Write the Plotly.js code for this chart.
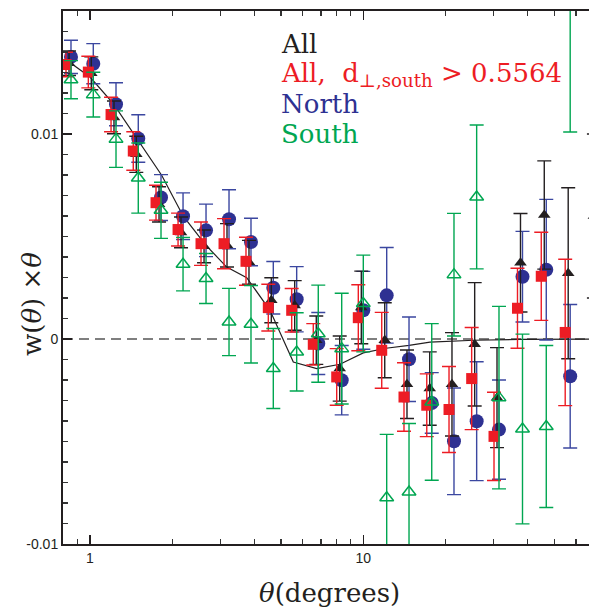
<!DOCTYPE html>
<html>
<head>
<meta charset="utf-8">
<script src="https://cdn.plot.ly/plotly-3.0.1.min.js"></script>
<style>html,body{margin:0;padding:0;overflow:hidden;background:#fff;}</style>
</head>
<body>
<div id="chart"></div>
<script>
// ---- data ----
const thetaNorth = [0.852,1.028,1.245,1.502,1.819,2.190,2.658,3.226,3.882,4.685,5.705,6.843,8.337,10.00,12.18,14.70,17.80,21.47,25.99,31.37,38.24,46.72,57.15];
const wNorth = [0.01376,0.01343,0.01145,0.00978,0.00690,0.00599,0.00530,0.00584,0.00473,0.00250,0.00194,-0.00022,-0.00201,0.00140,0.00213,-0.00099,-0.00312,-0.00499,-0.00401,-0.00442,0.00304,0.00338,-0.00182];
const errNorth = [0.00081,0.00098,0.00105,0.00116,0.00112,0.00114,0.00128,0.00144,0.00116,0.00128,0.00159,0.00151,0.00169,0.00190,0.00233,0.00206,0.00148,0.00260,0.00290,0.00242,0.00221,0.00343,0.00350];

const thetaSouth = [0.852,1.028,1.245,1.502,1.819,2.190,2.658,3.226,3.882,4.685,5.705,6.843,8.337,10.00,12.18,14.70,17.80,21.47,25.99,31.37,38.24,46.72,57.15];
const wSouth = [0.01265,0.01192,0.00975,0.00785,0.00628,0.00365,0.00295,0.00083,0.00072,-0.00144,-0.00063,0.00026,-0.00047,0.00173,-0.00774,-0.00746,-0.00307,0.00314,0.00693,-0.00286,-0.00439,-0.00427,0.0205];
const errSouth = [0.00093,0.00109,0.00138,0.00171,0.00137,0.00130,0.00122,0.00164,0.00189,0.00195,0.00191,0.00237,0.00270,0.00236,0.00309,0.00334,0.00382,0.00299,0.00351,0.00445,0.00463,0.00395,0.0104];

const thetaAllCut = [0.817,0.986,1.194,1.440,1.744,2.100,2.548,3.093,3.722,4.492,5.470,6.561,7.993,9.588,11.68,14.09,17.07,20.59,24.92,30.08,36.66,44.79,54.80];
const wAllCut = [0.01339,0.01302,0.01095,0.00917,0.00665,0.00534,0.00465,0.00465,0.00379,0.00153,0.00140,-0.00026,-0.00185,0.00104,-0.00055,-0.00283,-0.00323,-0.00344,-0.00193,-0.00475,0.00150,0.00306,0.00032];
const errAllCut = [0.00060,0.00077,0.00084,0.00094,0.00085,0.00080,0.00106,0.00122,0.00117,0.00114,0.00106,0.00101,0.00138,0.00161,0.00185,0.00167,0.00153,0.00210,0.00249,0.00215,0.00195,0.00215,0.00357];

const thetaAll = [0.838,1.011,1.224,1.477,1.789,2.153,2.614,3.172,3.817,4.607,5.610,6.729,8.198,9.833,11.98,14.45,17.50,21.11,25.56,30.85,37.60,45.94,56.20,69.8];
const wAll = [0.01345,0.01296,0.01081,0.00901,0.00657,0.00520,0.00452,0.00457,0.00374,0.00189,0.00164,-0.00006,-0.00144,0.00154,-0.00006,-0.00221,-0.00242,-0.00221,-0.00026,-0.00286,0.00372,0.00605,0.00321,0.0060];
const errAll = [0.00060,0.00080,0.00080,0.00088,0.00086,0.00075,0.00080,0.00106,0.00107,0.00110,0.00121,0.00118,0.00159,0.00177,0.00183,0.00167,0.00179,0.00252,0.00301,0.00244,0.00240,0.00264,0.00417,0.0040];

const thetaModel = [0.815,1.0,1.217,1.524,1.829,2.194,2.657,3.164,3.745,4.556,5.545,6.753,8.217,10.0,12.11,14.70,17.54,25.41,37.43,70.0];
const wModel = [0.01363,0.01278,0.01148,0.00953,0.00799,0.00599,0.00457,0.00351,0.00299,0.00140,-0.00112,-0.00144,-0.00123,-0.00068,-0.00045,-0.00031,-0.00015,-0.00006,-0.00002,0.0];

const yTickVals = [-0.01, 0, 0.01];
const yTickText = ['-0.01', '0', '0.01'];
const xTickVals = [1, 10];
const xTickText = ['1', '10'];
const xMinorVals = [0.8,0.9,2,3,4,5,6,7,8,9,20,30,40,50,60,70,80];

const legendLabels = ['All', 'All,&nbsp; d<sub>\u22a5,south</sub> > 0.5564', 'North', 'South'];

// ---- styles ----
const cBlack = '#231F20', cRed = '#ED1C24', cBlue = '#2E3192', cGreen = '#00A651';
const serif = 'DejaVu Serif, serif';
const sans = 'Liberation Sans, Arial, sans-serif';

function eb(arr, color) {
  return {type: 'data', array: arr, visible: true, color: color, thickness: 1.4, width: 7};
}

const traces = [
  {x: thetaModel, y: wModel, mode: 'lines', line: {color: cBlack, width: 1.2}, hoverinfo: 'skip'},
  {x: thetaNorth, y: wNorth, mode: 'markers', marker: {symbol: 'circle', size: 14, color: cBlue},
   error_y: eb(errNorth, '#3B47A0')},
  {x: thetaAll, y: wAll, mode: 'markers', marker: {symbol: 'triangle-up', size: 11, color: cBlack},
   error_y: eb(errAll, cBlack)},
  {x: thetaAllCut, y: wAllCut, mode: 'markers', marker: {symbol: 'square', size: 11, color: cRed},
   error_y: eb(errAllCut, cRed)},
  {x: thetaSouth, y: wSouth, mode: 'markers', marker: {symbol: 'triangle-up-open', size: 12, color: cGreen, line: {color: cGreen, width: 1.5}},
   error_y: eb(errSouth, cGreen)}
];

const legendY = [0.938, 0.8818, 0.8255, 0.7692];
const legendColors = [cBlack, cRed, cBlue, cGreen];
const annotations = legendLabels.map((t, i) => ({
  text: t, xref: 'paper', yref: 'paper', x: 0.3985, y: legendY[i],
  xanchor: 'left', yanchor: 'middle', showarrow: false,
  font: {family: serif, size: 26, color: legendColors[i], weight: 300}
}));
annotations.push({
  text: '<i>\u03b8</i>(degrees)', xref: 'paper', yref: 'paper', x: 0.4908, y: -0.0919,
  xanchor: 'center', yanchor: 'middle', showarrow: false,
  font: {family: serif, size: 26, color: cBlack}
});
annotations.push({
  text: 'w(<i>\u03b8</i>) \u00d7<i>\u03b8</i>', xref: 'paper', yref: 'paper', x: -0.0572, y: 0.4503,
  xanchor: 'center', yanchor: 'middle', showarrow: false, textangle: -90,
  font: {family: serif, size: 26, color: cBlack}
});

const layout = {
  width: 620, height: 608,
  margin: {l: 63, r: 15, t: 11, b: 64, pad: 0},
  paper_bgcolor: '#fff', plot_bgcolor: '#fff',
  showlegend: false,
  font: {family: sans, size: 14, color: cBlack},
  xaxis: {
    type: 'log', range: [-0.0988, 1.8844],
    tickmode: 'array', tickvals: xTickVals, ticktext: xTickText,
    ticks: 'inside', ticklen: 9, tickwidth: 1.3, tickcolor: cBlack,
    minor: {tickmode: 'array', tickvals: xMinorVals, ticks: 'inside', ticklen: 5, tickwidth: 1.2, tickcolor: '#333', showgrid: false},
    showline: true, linewidth: 2, linecolor: cBlack, mirror: 'ticks',
    showgrid: false, zeroline: false,
    tickfont: {family: sans, size: 14, color: cBlack}
  },
  yaxis: {
    range: [-0.01, 0.016],
    tickmode: 'array', tickvals: yTickVals, ticktext: yTickText,
    ticks: 'inside', ticklen: 9, tickwidth: 1.3, tickcolor: cBlack,
    minor: {dtick: 0.001, ticks: 'inside', ticklen: 5, tickwidth: 1.2, tickcolor: '#333', showgrid: false},
    showline: true, linewidth: 2, linecolor: cBlack, mirror: false,
    showgrid: false, zeroline: false,
    tickfont: {family: sans, size: 14, color: cBlack}
  },
  shapes: [{type: 'line', xref: 'paper', yref: 'y', x0: 0, x1: 1, y0: 0, y1: 0,
            line: {color: '#555', width: 1.5, dash: '10px,6px'}, layer: 'below'}],
  annotations: annotations
};

Plotly.newPlot('chart', traces, layout, {displayModeBar: false, staticPlot: true});
</script>
</body>
</html>
